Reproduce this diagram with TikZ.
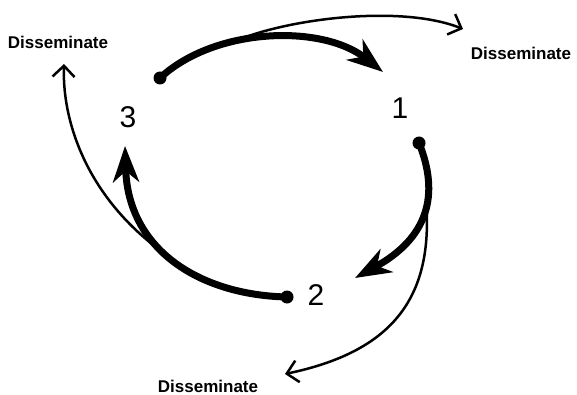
\documentclass[tikz,border=0pt]{standalone}
\usepackage{fontspec}
\setmainfont{Liberation Sans}
\usetikzlibrary{arrows.meta}
\begin{document}
\begin{tikzpicture}[x=1pt,y=-1pt,
  dotnode/.style={circle,fill=black,inner sep=0pt,minimum size=13pt},
  numlabel/.style={font=\fontsize{30}{32}\selectfont},
  dlabel/.style={font=\fontsize{17}{19}\selectfont\bfseries},
  thickarc/.style={line width=7pt,-{Stealth[length=36pt,width=26pt,inset=11pt]}},
  thinarc/.style={line width=2.5pt,-{Straight Barb[length=11pt,width=22pt,line width=2.5pt]}}]
\useasboundingbox (0,0) rectangle (577,395);
% numbers
\node[numlabel] (n3) at (128,117) {3};
\node[numlabel] (n1) at (400,108) {1};
\node[numlabel] (n2) at (316,295) {2};
% labels
\node[dlabel] (dtl) at (58,42) {Disseminate};
\node[dlabel] (dtr) at (521,53) {Disseminate};
\node[dlabel] (db) at (208,386) {Disseminate};
% dots
\node[dotnode] (d3) at (160,78) {};
\node[dotnode] (d1) at (419,143) {};
\node[dotnode] (d2) at (287,297) {};
% arrow ends
\coordinate (t1) at (383,72);
\coordinate (t2) at (355,278);
\coordinate (t3) at (125,146);
\coordinate (b1) at (233,42);
\coordinate (b2) at (426,201);
\coordinate (b3) at (174,260);
\coordinate (e1) at (463,29);
\coordinate (e2) at (285,374);
\coordinate (e3) at (64,64);
% thin arcs
\draw[thinarc] (b1) .. controls (285,19) and (400,4) .. (e1);
\draw[thinarc] (b2) .. controls (434,300) and (390,352) .. (e2);
\draw[thinarc] (b3) .. controls (90,205) and (62,125) .. (e3);
% thick arcs
\draw[thickarc] (d3.center) .. controls (215,27) and (322,24) .. (t1);
\draw[thickarc] (d1.center) .. controls (440,195) and (428,238) .. (t2);
\draw[thickarc] (d2.center) .. controls (200,295) and (128,250) .. (t3);
\end{tikzpicture}
\end{document}
